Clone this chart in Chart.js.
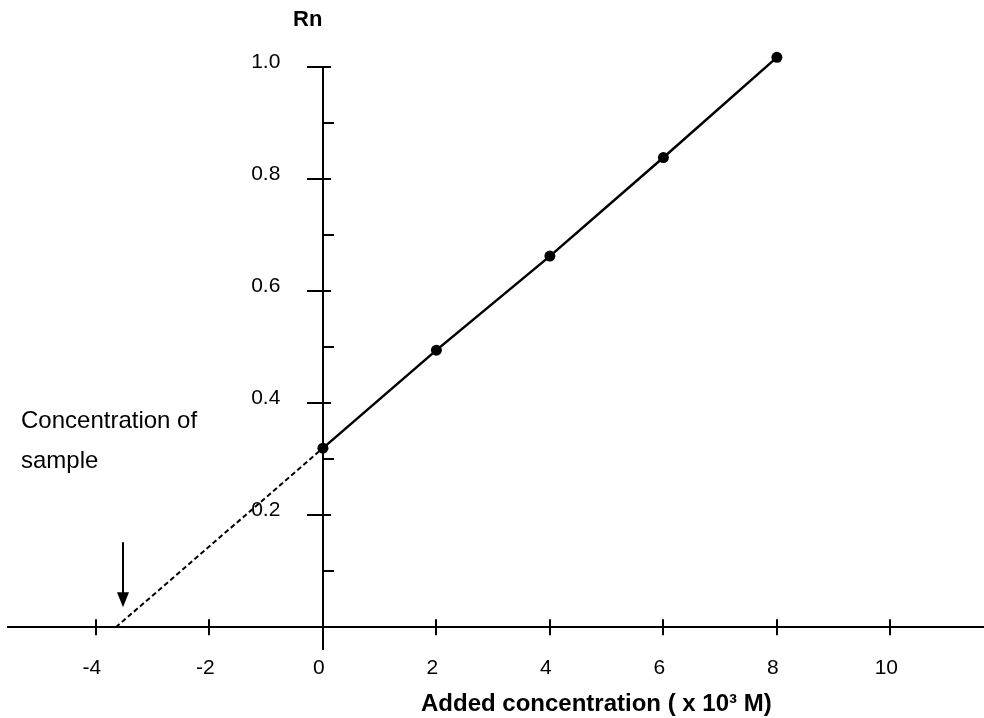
<!DOCTYPE html>
<html><head><meta charset="utf-8">
<script src="https://cdn.jsdelivr.net/npm/chart.js@4"></script>
<style>html,body{margin:0;padding:0;background:#fff;overflow:hidden}#c{display:block}</style>
</head><body><canvas id="c" width="984" height="718"></canvas>
<script>
const addedConc = [0, 2, 4, 6, 8];
const rnValues = [0.32, 0.495, 0.663, 0.839, 1.018];
const extrapConc = [-3.65, 0];
const extrapRn = [0, 0.32];
const xTickValues = [-4, -2, 0, 2, 4, 6, 8, 10];
const xTickLabels = ['-4', '-2', '0', '2', '4', '6', '8', '10'];
const yMajorTicks = [0.2, 0.4, 0.6, 0.8, 1.0];
const yMajorLabels = ['0.2', '0.4', '0.6', '0.8', '1.0'];
const yMinorTicks = [0.1, 0.3, 0.5, 0.7, 0.9];
const xTitle = 'Added concentration ( x 10\u00B3 M)';
const yTitle = 'Rn';
const noteLines = ['Concentration of', 'sample'];

const FONT = '"Liberation Sans", Arial, sans-serif';
const yAxisTop = 1.0;

function noSpace(s) {
  if (s.isHorizontal()) s.height = 0; else s.width = 0;
  s.paddingLeft = 0; s.paddingRight = 0; s.paddingTop = 0; s.paddingBottom = 0;
}

const overlay = {
  id: 'overlay',
  beforeDatasetsDraw(chart) {
    const {ctx, chartArea} = chart;
    const x = chart.scales.x, y = chart.scales.y;
    const x0 = Math.round(x.getPixelForValue(0)), y0 = y.getPixelForValue(0);
    ctx.save();
    ctx.strokeStyle = '#000';
    ctx.lineWidth = 2;
    ctx.beginPath();
    ctx.moveTo(x0, Math.round(y.getPixelForValue(yAxisTop)));
    ctx.lineTo(x0, chartArea.bottom);
    xTickValues.forEach(v => {
      const px = Math.round(x.getPixelForValue(v));
      ctx.moveTo(px, y0 - 8); ctx.lineTo(px, y0 + 8);
    });
    yMajorTicks.forEach(v => {
      const py = Math.round(y.getPixelForValue(v));
      ctx.moveTo(x0 - 16, py); ctx.lineTo(x0 + 8, py);
    });
    yMinorTicks.forEach(v => {
      const py = Math.round(y.getPixelForValue(v));
      ctx.moveTo(x0, py); ctx.lineTo(x0 + 11, py);
    });
    ctx.stroke();
    ctx.restore();
  },
  afterDraw(chart) {
    const {ctx} = chart;
    const x = chart.scales.x, y = chart.scales.y;
    ctx.save();
    ctx.strokeStyle = '#000';
    ctx.fillStyle = '#000';
    ctx.lineWidth = 2;
    const ax = Math.round(x.getPixelForValue(-3.53));
    const aTop = y.getPixelForValue(0.152), aTip = y.getPixelForValue(0.036);
    ctx.beginPath();
    ctx.moveTo(ax, aTop); ctx.lineTo(ax, aTip - 12);
    ctx.stroke();
    ctx.beginPath();
    ctx.moveTo(ax - 6, aTip - 15); ctx.lineTo(ax + 6, aTip - 15); ctx.lineTo(ax, aTip);
    ctx.closePath(); ctx.fill();
    ctx.textAlign = 'left';
    ctx.textBaseline = 'alphabetic';
    ctx.font = 'bold 22px ' + FONT;
    ctx.fillText(yTitle, 293, 26);
    ctx.font = 'bold 24px ' + FONT;
    ctx.fillText(xTitle, 421, 711);
    ctx.font = '24px ' + FONT;
    ctx.fillText(noteLines[0], 21, 428);
    ctx.fillText(noteLines[1], 21, 468);
    ctx.restore();
  }
};

const yMin = -0.0405, yMax = 1.04;

new Chart(document.getElementById('c'), {
  type: 'scatter',
  data: {
    datasets: [
      {
        data: addedConc.map((v, i) => ({x: v, y: rnValues[i]})),
        showLine: true,
        borderColor: '#000',
        backgroundColor: '#000',
        borderWidth: 2.5,
        pointRadius: 5.5,
        pointBorderWidth: 0,
        clip: false
      },
      {
        data: extrapConc.map((v, i) => ({x: v, y: extrapRn[i]})),
        showLine: true,
        borderColor: '#000',
        borderWidth: 2,
        borderDash: [5, 3],
        pointRadius: 0,
        clip: false
      }
    ]
  },
  options: {
    responsive: false,
    animation: false,
    layout: {autoPadding: false, padding: {left: 8, right: 0, top: 45, bottom: 68}},
    plugins: {legend: {display: false}, tooltip: {enabled: false}},
    scales: {
      x: {
        type: 'linear',
        position: {y: 0},
        min: -5.55, max: 11.65,
        afterBuildTicks: s => { s.ticks = xTickValues.map(v => ({value: v})); },
        afterFit: noSpace,
        grid: {display: false, drawTicks: false},
        border: {display: true, color: '#000', width: 2},
        ticks: {
          callback: v => xTickLabels[xTickValues.indexOf(v)],
          font: {family: FONT, size: 21},
          color: '#000',
          padding: 28,
          labelOffset: -4,
          maxRotation: 0,
          autoSkip: false
        }
      },
      y: {
        type: 'linear',
        position: {x: 0},
        min: yMin, max: yMax,
        afterFit: noSpace,
        grid: {display: false, drawTicks: false},
        border: {display: false},
        ticks: {display: false}
      },
      yLabels: {
        type: 'linear',
        position: {x: -0.75},
        min: yMin, max: yMax,
        afterBuildTicks: s => { s.ticks = yMajorTicks.map(v => ({value: v})); },
        afterFit: noSpace,
        grid: {display: false, drawTicks: false},
        border: {display: false},
        ticks: {
          callback: v => yMajorLabels[yMajorTicks.indexOf(v)],
          font: {family: FONT, size: 21},
          color: '#000',
          labelOffset: -5,
          autoSkip: false
        }
      }
    }
  },
  plugins: [overlay]
});
</script>
</body></html>
